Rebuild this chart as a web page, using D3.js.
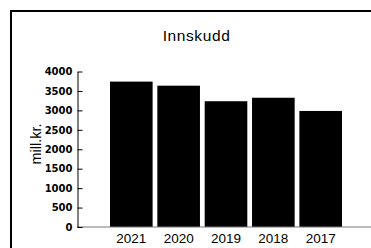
<!DOCTYPE html>
<html>
<head>
<meta charset="utf-8">
<script src="https://cdn.jsdelivr.net/npm/d3@7"></script>
<style>
html,body{margin:0;padding:0;background:#fff;overflow:hidden;}
</style>
</head>
<body>
<script>
const categories = ["2021", "2020", "2019", "2018", "2017"];
const values = [3740, 3635, 3235, 3325, 2985];
const yTicks = [0, 500, 1000, 1500, 2000, 2500, 3000, 3500, 4000];
const title = "Innskudd";
const yTitle = "mill.kr.";

const W = 371, H = 248;
const svg = d3.select("body").append("svg").attr("width", W).attr("height", H);

// frame
svg.append("rect").attr("x", 11).attr("y", 11).attr("width", 420).attr("height", 320)
  .attr("fill", "none").attr("stroke", "#000").attr("stroke-width", 2);

const x = d3.scaleBand().domain(categories).range([110, 342]).paddingInner(0.1).paddingOuter(0);
const y = d3.scaleLinear().domain([0, 4000]).range([227, 71.5]);

// title
svg.append("text").attr("x", 196.5).attr("y", 41).attr("text-anchor", "middle")
  .attr("font-family", "Liberation Sans, Arial, sans-serif").attr("font-size", 15.5)
  .attr("letter-spacing", 0.6)
  .text(title);

// y title
svg.append("text").attr("transform", "translate(41,144) rotate(-90)")
  .attr("text-anchor", "middle")
  .attr("font-family", "Liberation Sans, Arial, sans-serif").attr("font-size", 14.5)
  .text(yTitle);

// bars
svg.selectAll("rect.bar").data(categories).enter().append("rect").attr("class", "bar")
  .attr("x", d => x(d)).attr("width", x.bandwidth())
  .attr("y", (d, i) => y(values[i])).attr("height", (d, i) => y(0) - y(values[i]))
  .attr("fill", "#000");

// x baseline
svg.append("line").attr("x1", 77).attr("x2", W).attr("y1", y(0)).attr("y2", y(0))
  .attr("stroke", "#777").attr("stroke-width", 1);

// x labels
const xAxis = svg.append("g").attr("transform", `translate(0,${y(0)})`)
  .call(d3.axisBottom(x).tickSize(0).tickPadding(6));
xAxis.select(".domain").remove();
xAxis.selectAll("text").attr("font-family", "Liberation Sans, Arial, sans-serif")
  .attr("font-size", 13.5).attr("fill", "#000");

// y axis
const yAxis = svg.append("g").attr("transform", "translate(77.5,0)")
  .call(d3.axisLeft(y).tickValues(yTicks).tickFormat(d3.format("d"))
    .tickSizeInner(-5).tickSizeOuter(0).tickPadding(5));
yAxis.select(".domain").attr("stroke", "#000");
yAxis.selectAll(".tick line").attr("stroke", "#000");
yAxis.selectAll("text").attr("font-family", "DejaVu Sans, Verdana, sans-serif")
  .attr("font-size", 10).attr("font-weight", "bold").attr("fill", "#000");
</script>
</body>
</html>
